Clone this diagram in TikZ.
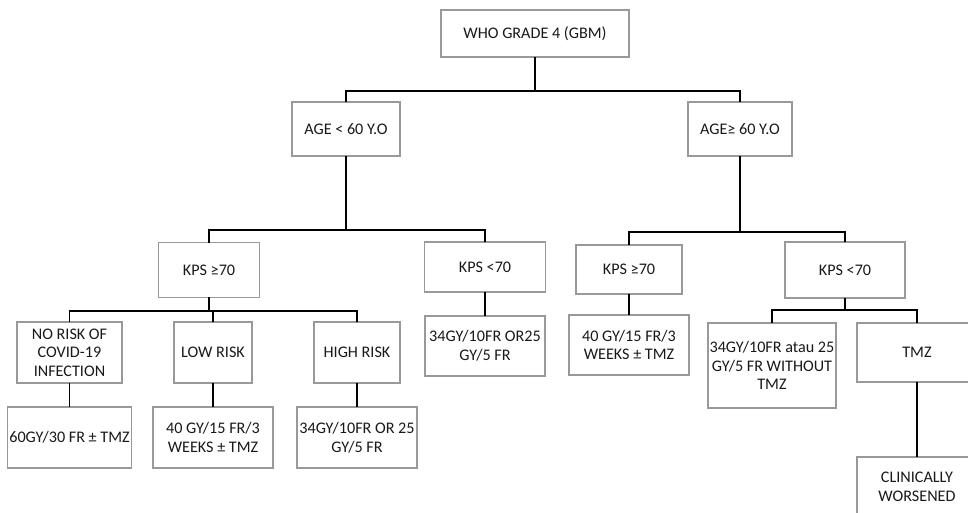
\documentclass[tikz,border=0pt]{standalone}
\usepackage{fontspec}
\setmainfont{Carlito}
\usepackage{tikz}

\begin{document}
\begin{tikzpicture}[x=0.02cm,y=-0.02cm,
  cell/.style 2 args={draw=black!40, line width=0.8pt, fill=white, inner sep=1pt,
    minimum width=#1*0.02cm, minimum height=#2*0.02cm, align=center,
    font=\fontsize{9.2}{10.6}\selectfont, text=black!90},
  link/.style={line width=1.1pt, line cap=rect}]
\useasboundingbox (0,0) rectangle (968,513);
\clip (0,0) rectangle (968,513);

\node[cell={188}{47}] (root) at (535,33.5) {WHO GRADE 4 (GBM)};

\node[cell={108}{54}] (ageL) at (346,129) {AGE < 60 Y.O};
\node[cell={104}{54}] (ageR) at (740,129) {AGE≥ 60 Y.O};

\node[cell={101}{55}] (kpsA) at (209,270) {KPS ≥70};
\node[cell={121}{50}] (kpsB) at (485,267) {KPS <70};
\node[cell={106}{49}] (kpsC) at (629,269.5) {KPS ≥70};
\node[cell={120}{56}] (kpsD) at (845,270) {KPS <70};

\node[cell={105}{61}] (norisk) at (69.5,352.5) {NO RISK OF\\COVID-19\\INFECTION};
\node[cell={78}{61}] (lowrisk) at (213,352.5) {LOW RISK};
\node[cell={86}{61}] (highrisk) at (357,352.5) {HIGH RISK};

\node[cell={119}{61}] (doseA) at (69.5,437.5) {60GY/30 FR ± TMZ};
\node[cell={120}{61}] (doseB) at (213,437.5) {40 GY/15 FR/3\\WEEKS ± TMZ};
\node[cell={120}{61}] (doseC) at (357,437.5) {34GY/10FR OR 25\\GY/5 FR};

\node[cell={120}{60}] (doseD) at (485,346) {34GY/10FR OR25\\GY/5 FR};
\node[cell={120}{60}] (doseE) at (629,345) {40 GY/15 FR/3\\WEEKS ± TMZ};

\node[cell={120}{85}] (doseF) at (772,365.5) {34GY/10FR atau 25\\GY/5 FR WITHOUT\\TMZ};
\node[cell={120}{59}] (tmz) at (917,352.5) {TMZ};
\node[cell={120}{60}] (worse) at (917,487) {CLINICALLY\\WORSENED};

\coordinate (jA) at (535,91);
\coordinate (jB) at (346,230);
\coordinate (jC) at (740,232);
\coordinate (jD) at (209,311);
\coordinate (jE) at (845,310);

\draw[link] (root.south) -- (jA);
\draw[link] (ageL.north) |- (jA) -| (ageR.north);
\draw[link] (ageL.south) -- (jB);
\draw[link] (kpsA.north) |- (jB) -| (kpsB.north);
\draw[link] (ageR.south) -- (jC);
\draw[link] (kpsC.north) |- (jC) -| (kpsD.north);
\draw[link] (kpsA.south) -- (jD);
\draw[link] (norisk.north) |- (jD) -| (highrisk.north);
\draw[link] (lowrisk.north) -- (lowrisk.north |- jD);
\draw[link] (kpsD.south) -- (jE);
\draw[link] (doseF.north) |- (jE) -| (tmz.north);

\foreach \a/\b in {norisk/doseA,lowrisk/doseB,highrisk/doseC,kpsB/doseD,kpsC/doseE,tmz/worse}
  \draw[link] (\a.south) -- (\b.north);

\end{tikzpicture}
\end{document}
